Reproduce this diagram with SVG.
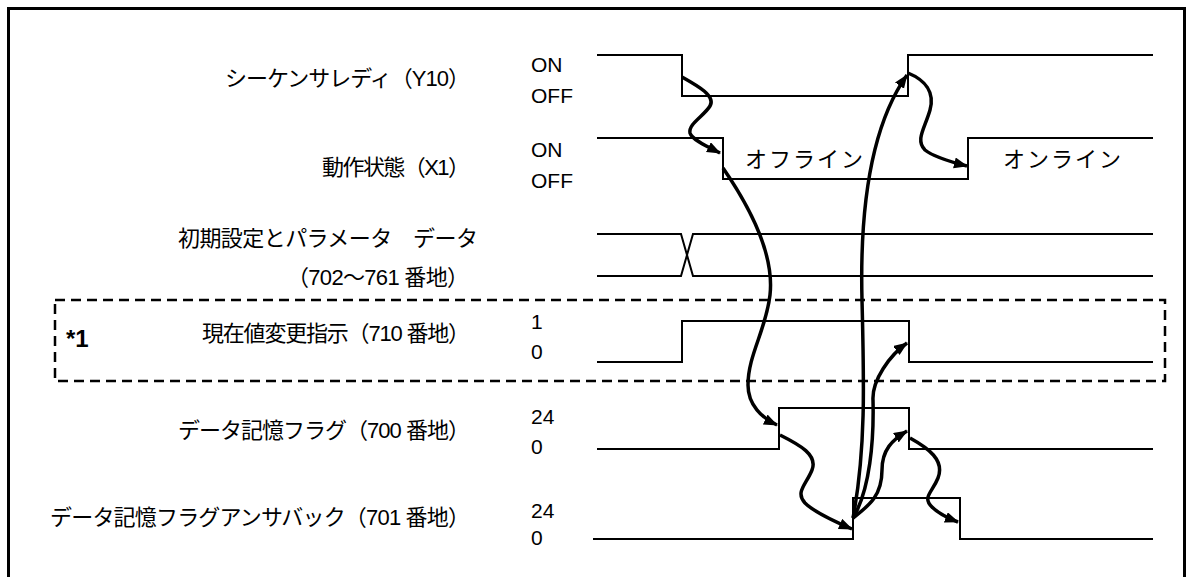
<svg xmlns="http://www.w3.org/2000/svg" width="1192" height="577" viewBox="0 0 1192 577">
<style>
.sig{fill:none;stroke:#000;stroke-width:2}
.arr{fill:none;stroke:#000;stroke-width:3.5;marker-end:url(#ah)}
.lbl{font-family:"Liberation Sans","Noto Sans CJK JP",sans-serif;font-size:22px;fill:#000}
.num{font-family:"Liberation Sans",sans-serif;font-size:21px;fill:#000}
.star{font-family:"Liberation Sans",sans-serif;font-size:24px;font-weight:bold;fill:#000}
.jp{font-family:"Noto Sans CJK JP","Liberation Sans",sans-serif;font-size:22px;fill:#000}
</style>
<defs>
<marker id="ah" markerUnits="userSpaceOnUse" markerWidth="16" markerHeight="12" refX="13" refY="5.5" orient="auto">
<path d="M0,0 L14,5.5 L0,11 z" fill="#000"/>
</marker>
</defs>
<rect x="0" y="0" width="1192" height="577" fill="#fff"/>
<rect x="8.5" y="8.5" width="1176" height="590" fill="none" stroke="#000" stroke-width="3"/>
<rect id="box1" x="55" y="300" width="1110" height="81" fill="none" stroke="#000" stroke-width="2.5" stroke-dasharray="10 6"/>

<g id="sig-y10">
<text class="lbl" x="470" y="86" text-anchor="end" textLength="245" lengthAdjust="spacing">シーケンサレディ（Y10）</text>
<text class="num" x="531" y="72">ON</text>
<text class="num" x="531" y="103">OFF</text>
<path class="sig" d="M597,55 H682 V96 H908 V55 H1153"/>
</g>
<g id="sig-x1">
<text class="lbl" x="470" y="175" text-anchor="end" textLength="148" lengthAdjust="spacing">動作状態（X1）</text>
<text class="num" x="531" y="157">ON</text>
<text class="num" x="531" y="188">OFF</text>
<path class="sig" d="M597,138 H723 V179 H968 V138 H1153"/>
<text class="jp" x="745" y="167" textLength="118" lengthAdjust="spacing">オフライン</text>
<text class="jp" x="1003" y="167" textLength="118" lengthAdjust="spacing">オンライン</text>
</g>
<g id="sig-data">
<text class="lbl" x="478" y="246" text-anchor="end" textLength="300" lengthAdjust="spacing">初期設定とパラメータ　データ</text>
<text class="lbl" x="469" y="285" text-anchor="end" textLength="182" lengthAdjust="spacing">（702～761 番地）</text>
<path class="sig" d="M597,234 H681 L693,276 H1153"/>
<path class="sig" d="M597,276 H681 L693,234 H1153"/>
</g>
<g id="sig-710">
<text class="star" x="66" y="347">*1</text>
<text class="lbl" x="470" y="341" text-anchor="end" textLength="268" lengthAdjust="spacing">現在値変更指示（710 番地）</text>
<text class="num" x="531" y="329">1</text>
<text class="num" x="531" y="359">0</text>
<path class="sig" d="M597,362 H682 V321 H909 V362 H1153"/>
</g>
<g id="sig-700">
<text class="lbl" x="470" y="438" text-anchor="end" textLength="292" lengthAdjust="spacing">データ記憶フラグ（700 番地）</text>
<text class="num" x="531" y="424">24</text>
<text class="num" x="531" y="454">0</text>
<path class="sig" d="M597,449 H779 V408 H909 V449 H1153"/>
</g>
<g id="sig-701">
<text class="lbl" x="470" y="525" text-anchor="end" textLength="420" lengthAdjust="spacing">データ記憶フラグアンサバック（701 番地）</text>
<text class="num" x="531" y="518">24</text>
<text class="num" x="531" y="545">0</text>
<path class="sig" d="M593,539 H853 V498 H960 V539 H1153"/>
</g>

<g id="connectors">
<path class="arr" d="M682,77 C698,86 716,96 710,106 C704,116 688,124 690,133 C692,140 708,147 720,153"/>
<path class="arr" d="M723,168 C745,200 775,250 770,295 C766,330 748,355 748,385 C748,405 762,418 777,425"/>
<path class="arr" d="M908,73 C925,80 935,92 930,110 C925,128 915,140 925,150 C935,158 955,163 967,166"/>
<path class="arr" d="M780,435 C800,445 818,455 812,470 C806,485 795,492 805,503 C815,513 838,523 852,529"/>
<path class="arr" d="M910,438 C928,448 945,460 938,478 C932,493 922,497 932,507 C940,515 950,519 958,522"/>
<path class="arr" d="M853,518 C866,450 864,380 862,300 C860,220 868,130 907,75"/>
<path class="arr" d="M853,518 C870,490 874,440 873,400 C872,380 890,355 907,343"/>
<path class="arr" d="M853,518 C870,505 882,495 882,470 C882,450 892,440 907,431"/>
</g>
</svg>
